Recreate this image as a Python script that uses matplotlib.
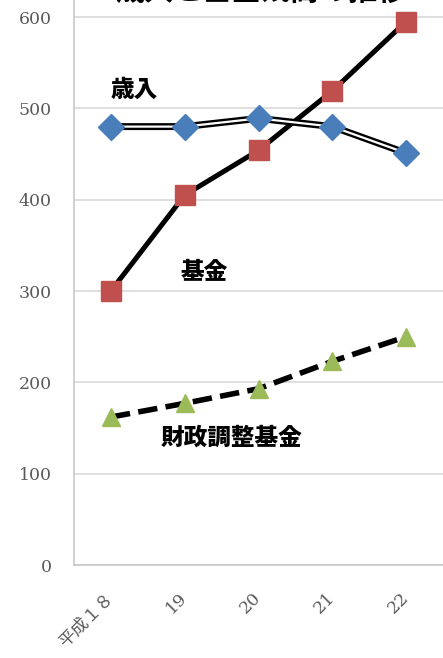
import matplotlib.pyplot as plt
import numpy as np

# data
years = ["平成１８", "19", "20", "21", "22"]
revenue = [480, 480, 489, 480, 451]       # 歳入
fund = [300, 405, 454, 519, 595]          # 基金
adjust_fund = [162, 177, 193, 223, 250]   # 財政調整基金
y_ticks = [0, 100, 200, 300, 400, 500, 600]

CJK = ["Noto Sans CJK JP", "DejaVu Sans"]
TICK_FONT = ["DejaVu Serif", "Noto Sans CJK JP"]
GRID = "#d9d9d9"
TICK_COLOR = "#5a5a5a"

fig = plt.figure(figsize=(4.43, 6.58), dpi=100)
ax = fig.add_axes([74 / 443, 93 / 658, 1 - 74 / 443, 1 - 93 / 658])

x = np.arange(len(years))

# 歳入: double line (black outer, white core)
ax.plot(x, revenue, color="black", lw=5.0, zorder=3)
ax.plot(x, revenue, color="white", lw=1.6, zorder=4)
ax.plot(x, revenue, ls="", marker="D", ms=13, color="#4a7ebb", zorder=5)

# 基金
ax.plot(x, fund, color="black", lw=3.6, zorder=3)
ax.plot(x, fund, ls="", marker="s", ms=14.5, color="#c0504d", zorder=5)

# 財政調整基金
ax.plot(x, adjust_fund, color="black", lw=4.0, ls=(0, (3.5, 1.5)), zorder=3)
ax.plot(x, adjust_fund, ls="", marker="^", ms=13, color="#9bbb59", zorder=5)

ax.set_xlim(-0.5, 4.5)
ax.set_ylim(0, 600 + 17 / 0.913)
ax.set_yticks(y_ticks)
ax.set_xticks(x)
ax.set_xticklabels(years, rotation=45, ha="right", va="center",
                   rotation_mode="anchor", family=TICK_FONT,
                   color=TICK_COLOR, fontsize=12.5)
ax.set_yticklabels([str(v) for v in y_ticks], family=TICK_FONT,
                   color=TICK_COLOR, fontsize=12.5)
ax.tick_params(axis="y", length=0, pad=16)
ax.tick_params(axis="x", length=0, pad=22)

ax.grid(axis="y", color=GRID, lw=1.2)
ax.set_axisbelow(True)
for side in ("top", "right"):
    ax.spines[side].set_visible(False)
for side in ("left", "bottom"):
    ax.spines[side].set_color("#c8c8c8")
    ax.spines[side].set_linewidth(1.2)

# series labels
ax.text(0.31, 520, "歳入", family=CJK, fontweight="black", fontsize=17,
        ha="center", va="center", zorder=6)
ax.text(1.26, 321, "基金", family=CJK, fontweight="black", fontsize=17,
        ha="center", va="center", zorder=6)
ax.text(1.64, 140, "財政調整基金", family=CJK, fontweight="black", fontsize=17,
        ha="center", va="center", zorder=6)

# title, mostly cut off by the top edge in the reference
fig.text(0.59, 0.989, "歳入と基金残高の推移", family=CJK, fontweight="bold",
         fontsize=21, ha="center", va="bottom")

fig.savefig("out.png", dpi=100)
